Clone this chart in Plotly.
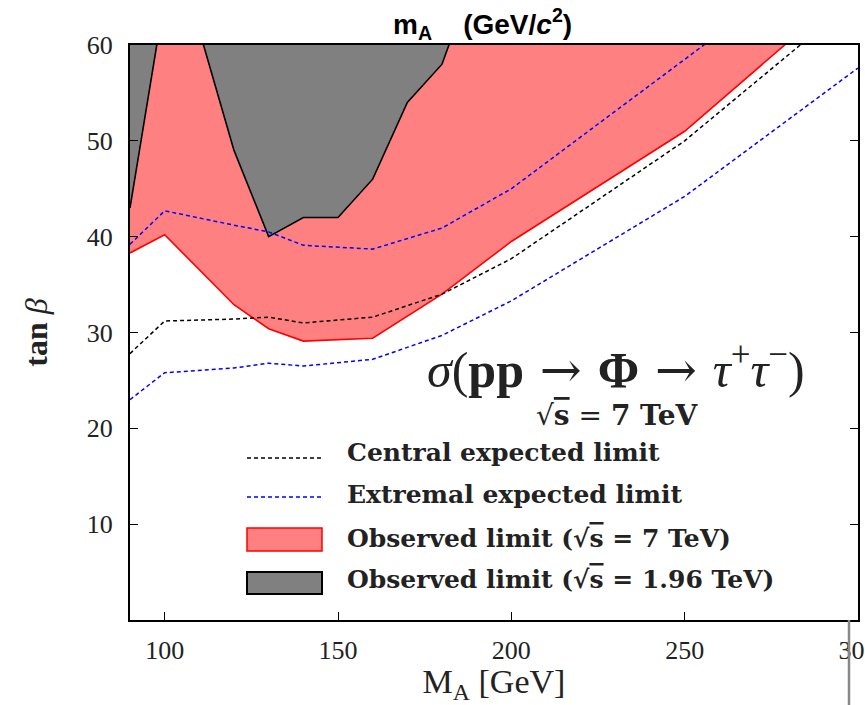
import plotly.graph_objects as go

# ---------------- data ----------------
mA = [90, 100, 120, 130, 140, 160, 180, 200, 250, 300]
obs_7tev = [38.3, 40.2, 32.9, 30.4, 29.1, 29.4, 34.0, 39.5, 51.0, 66.6]
exp_central = [27.8, 31.2, 31.4, 31.6, 31.0, 31.6, 34.0, 37.7, 50.0, 65.0]
exp_low = [23.0, 25.8, 26.3, 26.8, 26.5, 27.2, 29.7, 33.3, 44.2, 57.6]
exp_high = [39.2, 42.7, 41.2, 40.5, 39.1, 38.7, 40.9, 45.0, 58.5, 72.0]

mA_tev = [90, 100, 110, 120, 130, 140, 150, 160, 170, 180, 190]
obs_tev = [43.0, 65.0, 61.5, 49.0, 40.0, 42.0, 42.0, 46.0, 54.0, 58.0, 68.0]

x_ticks = [100, 150, 200, 250, 300]
y_ticks = [10, 20, 30, 40, 50, 60]

legend_labels = [
    "Central expected limit",
    "Extremal expected limit",
    "Observed limit (√<span style='text-decoration:overline'>s</span> = 7 TeV)",
    "Observed limit (√<span style='text-decoration:overline'>s</span> = 1.96 TeV)",
]

TOP = 100  # closing edge of the excluded regions (outside visible range)

PINK = "#ff8080"
GREY = "#808080"

fig = go.Figure()

# observed 7 TeV excluded region (above the red curve)
fig.add_trace(go.Scatter(
    x=mA + [mA[-1], mA[0]], y=obs_7tev + [TOP, TOP],
    fill="toself", fillcolor=PINK, line=dict(width=0), mode="lines",
    hoverinfo="skip", showlegend=False))
fig.add_trace(go.Scatter(
    x=mA, y=obs_7tev, mode="lines", line=dict(color="#ff0000", width=1.6),
    showlegend=False))

# Tevatron excluded region
fig.add_trace(go.Scatter(
    x=mA_tev + [mA_tev[-1], mA_tev[0]], y=obs_tev + [TOP, TOP],
    fill="toself", fillcolor=GREY, line=dict(width=0), mode="lines",
    hoverinfo="skip", showlegend=False))
fig.add_trace(go.Scatter(
    x=mA_tev, y=obs_tev, mode="lines", line=dict(color="black", width=1.6),
    showlegend=False))

# expected limits
fig.add_trace(go.Scatter(
    x=mA, y=exp_high, mode="lines",
    line=dict(color="#0000ff", width=1.5, dash="4px,3px"), showlegend=False))
fig.add_trace(go.Scatter(
    x=mA, y=exp_low, mode="lines",
    line=dict(color="#0000ff", width=1.5, dash="4px,3px"), showlegend=False))
fig.add_trace(go.Scatter(
    x=mA, y=exp_central, mode="lines",
    line=dict(color="black", width=1.5, dash="4px,3px"), showlegend=False))

# ---------------- layout ----------------
L, R, T, B = 130, 7, 45, 85
W, H = 865, 705
pw, ph = W - L - R, H - T - B


def px(xp):
    return (xp - L) / pw


def py(yp):
    return (H - B - yp) / ph


tickfont = dict(family="Liberation Serif", size=26, color="#222")

fig.update_layout(
    width=W, height=H,
    margin=dict(l=L, r=R, t=T, b=B, autoexpand=False),
    paper_bgcolor="white", plot_bgcolor="white",
    showlegend=False,
    xaxis=dict(
        range=[90, 300], tickvals=x_ticks, ticks="inside", ticklen=8,
        tickcolor="black", showline=True, linecolor="black", linewidth=2,
        mirror=True, showgrid=False, zeroline=False, tickfont=tickfont,
        ticklabeloverflow="allow", ticklabelstandoff=6, automargin=False,
        title=dict(text="M<sub>A</sub> [GeV]",
                   font=dict(family="Liberation Serif", size=34, color="#222"),
                   standoff=12)),
    yaxis=dict(
        range=[0, 60], tickvals=y_ticks, ticks="inside", ticklen=8,
        tickcolor="black", showline=True, linecolor="black", linewidth=2,
        mirror="ticks", showgrid=False, zeroline=False, tickfont=tickfont,
        ticklabelstandoff=10, automargin=False,
        title=dict(text="<b>tan</b> <i>β</i>",
                   font=dict(family="Liberation Serif", size=32, color="#222"),
                   standoff=30)),
)

annotations = []
shapes = []

# top title overlay
annotations.append(dict(
    xref="paper", yref="paper", x=px(482), y=py(24), xanchor="center",
    yanchor="middle", showarrow=False,
    text="<b>m<sub>A</sub>&nbsp;&nbsp;&nbsp;&nbsp;(GeV/<i>c</i><sup>2</sup>)</b>",
    font=dict(family="Liberation Sans", size=28, color="black")))

# process annotation
ARW = "<span style='font-family:DejaVu Serif'>&nbsp;→&nbsp;</span>"
annotations.append(dict(
    xref="paper", yref="paper", x=px(616), y=py(367), xanchor="center",
    yanchor="middle", showarrow=False,
    text="<i>σ</i>(<b>pp</b>" + ARW + "<b>Φ</b>" + ARW
         + "<i>τ</i><sup>+</sup><i>τ</i><sup>−</sup>)",
    font=dict(family="Liberation Serif", size=50, color="#222")))
annotations.append(dict(
    xref="paper", yref="paper", x=px(617), y=py(415), xanchor="center",
    yanchor="middle", showarrow=False,
    text="√<span style='text-decoration:overline'><b>s</b></span> = <b>7&nbsp;TeV</b>",
    font=dict(family="DejaVu Serif", size=28, color="#222")))

# custom legend
legend_rows_y = [453, 494, 538, 579]
for lab, yy in zip(legend_labels, legend_rows_y):
    annotations.append(dict(
        xref="paper", yref="paper", x=px(345), y=py(yy), xanchor="left",
        yanchor="middle", showarrow=False, text="<b>" + lab + "</b>",
        font=dict(family="DejaVu Serif", size=25, color="#222")))

shapes.append(dict(type="line", xref="paper", yref="paper",
                   x0=px(247), x1=px(322), y0=py(458), y1=py(458),
                   line=dict(color="black", width=1.5, dash="4px,3px")))
shapes.append(dict(type="line", xref="paper", yref="paper",
                   x0=px(247), x1=px(322), y0=py(497), y1=py(497),
                   line=dict(color="#0000ff", width=1.5, dash="4px,3px")))
shapes.append(dict(type="rect", xref="paper", yref="paper",
                   x0=px(247), x1=px(322), y0=py(551), y1=py(528),
                   fillcolor=PINK, line=dict(color="#ff0000", width=1.5)))
shapes.append(dict(type="rect", xref="paper", yref="paper",
                   x0=px(247), x1=px(322), y0=py(594), y1=py(572),
                   fillcolor=GREY, line=dict(color="black", width=2)))

# grey vertical line at bottom right
shapes.append(dict(type="line", xref="paper", yref="paper",
                   x0=px(849), x1=px(849), y0=py(620), y1=py(705),
                   line=dict(color="#888888", width=2.5)))

fig.update_layout(annotations=annotations, shapes=shapes)

fig.write_html("out.html")
